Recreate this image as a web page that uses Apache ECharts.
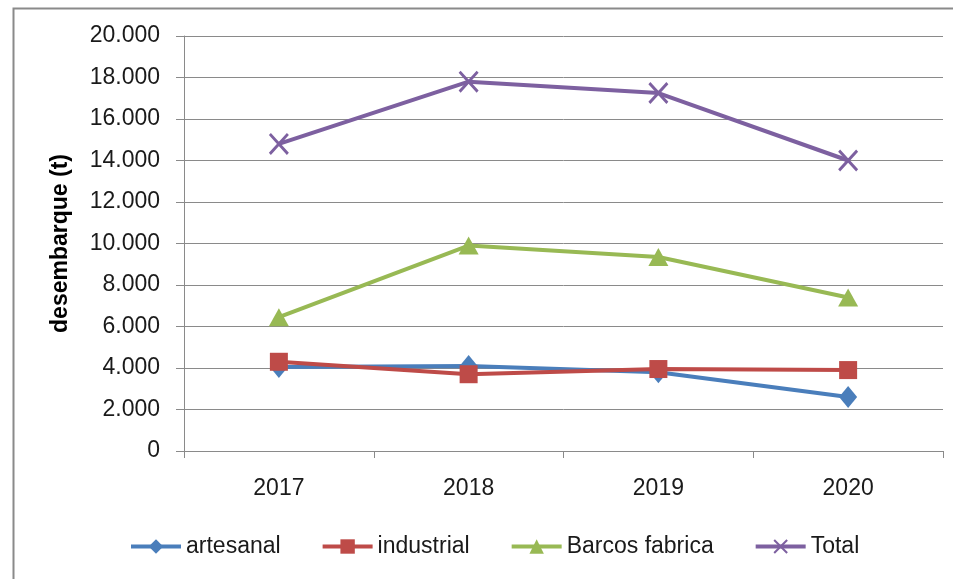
<!DOCTYPE html>
<html>
<head>
<meta charset="utf-8">
<script src="https://cdn.jsdelivr.net/npm/echarts@6/dist/echarts.min.js"></script>
<style>
  html, body { margin: 0; padding: 0; background: #fff; }
  #main { width: 953px; height: 579px; }
</style>
</head>
<body>
<div id="main"></div>
<script>
var years = ['2017', '2018', '2019', '2020'];
var artesanal = [4050, 4100, 3800, 2600];
var industrial = [4300, 3700, 3950, 3900];
var barcosFabrica = [6450, 9900, 9350, 7400];
var total = [14800, 17800, 17250, 14000];

var FONT = 'Liberation Sans';
var xMark = 'path://M0,1 L1,0 L10,9 L9,10 Z M9,0 L10,1 L1,10 L0,9 Z';

function mkSeries(name, data, color, symbol, size) {
    return {
        name: name,
        type: 'line',
        data: data,
        symbol: symbol,
        symbolSize: size,
        lineStyle: { color: color, width: 4 },   // grosor de linea
        itemStyle: { color: color },
        emphasis: { disabled: true }
    };
}

var myChart = echarts.init(document.getElementById('main'));
var option = {
    animation: false,
    textStyle: { fontFamily: FONT },
    graphic: [{
        type: 'rect',
        left: 11, top: 6,
        shape: { width: 960, height: 600 },
        style: { fill: 'none', stroke: '#8a8a8a', lineWidth: 2 }
    }],
    grid: { left: 184, right: 10, top: 36, bottom: 128 },
    legend: {
        top: 530,
        left: 124,
        itemWidth: 50,
        itemHeight: 18,
        itemGap: 40,
        lineStyle: { width: 4 },
        textStyle: { fontFamily: FONT, fontSize: 23, color: '#1a1a1a' },
        data: ['artesanal', 'industrial', 'Barcos fabrica', 'Total']
    },
    xAxis: {
        type: 'category',
        data: years,
        boundaryGap: true,
        axisLine: { lineStyle: { color: '#8a8a8a', width: 1 } },
        axisTick: { show: true, length: 7, lineStyle: { color: '#8a8a8a' } },
        axisLabel: { margin: 26, fontSize: 23, color: '#1a1a1a', fontFamily: FONT }
    },
    yAxis: {
        type: 'value',
        min: 0, max: 20000, interval: 2000,
        name: 'desembarque (t)',
        nameLocation: 'middle',
        nameGap: 112,
        nameTextStyle: { fontSize: 23, fontWeight: 'bold', color: '#000', fontFamily: FONT },
        axisLine: { show: true, lineStyle: { color: '#8a8a8a', width: 1 } },
        axisTick: { show: true, inside: false, length: 8, lineStyle: { color: '#8a8a8a' } },
        axisLabel: {
            margin: 24, fontSize: 23, color: '#1a1a1a', fontFamily: FONT,
            formatter: function (v) {
                // separador de miles con punto
                return v === 0 ? '0' : String(v).replace(/\B(?=(\d{3})+(?!\d))/g, '.');
            }
        },
        splitLine: { lineStyle: { color: '#8a8a8a', width: 1 } }
    },
    series: [
        mkSeries('artesanal', artesanal, '#4A7EBB', 'diamond', [18, 22]),
        mkSeries('industrial', industrial, '#BE4B48', 'rect', 18),
        mkSeries('Barcos fabrica', barcosFabrica, '#98B954', 'triangle', [20, 18]),
        mkSeries('Total', total, '#7D60A0', xMark, [20, 22])
    ]
};
myChart.setOption(option);
</script>
</body>
</html>
